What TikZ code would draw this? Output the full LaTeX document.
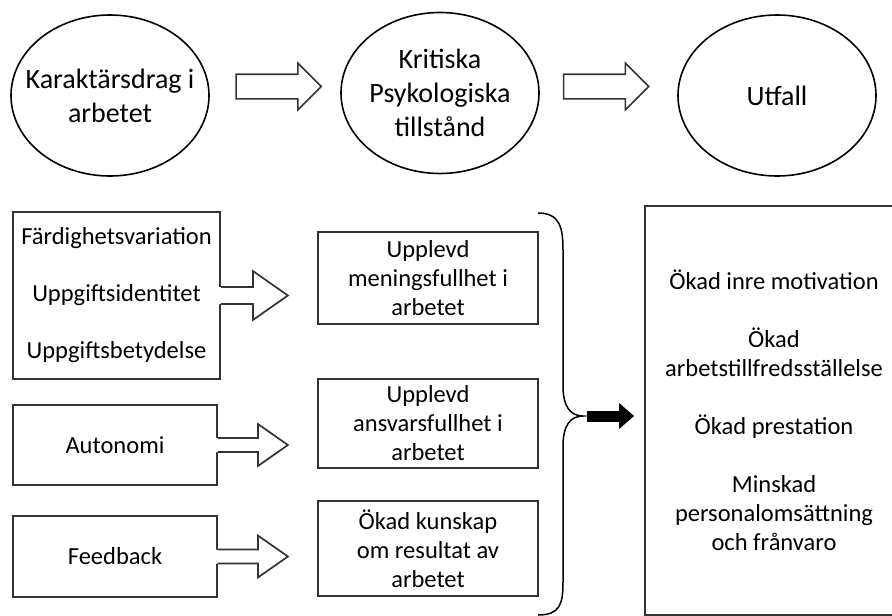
\documentclass[tikz,border=0pt]{standalone}
\usepackage{fontspec}
\setmainfont{Carlito}
\usetikzlibrary{shapes.geometric,shapes.arrows,arrows.meta,calc}
% open white arrow leaving a box: start, shaft half, head half, shaft length, head length
\newcommand{\openarrow}[5]{%
  \fill[white] ($(#1)+(-2,-#2)$) -- ++(#4+2,0) -- ++(0,#2-#3) -- ++(#5,#3) -- ++(-#5,#3) -- ++(0,#2-#3) -- ++(-#4-2,0) -- cycle;
  \draw[line width=1.7pt,black!80] ($(#1)+(0,-#2)$) -- ++(#4,0) -- ++(0,#2-#3) -- ++(#5,#3) -- ++(-#5,#3) -- ++(0,#2-#3) -- ++(-#4,0);}

\begin{document}
\begin{tikzpicture}[x=1pt,y=-1pt,
  oval/.style={draw,line width=1.6pt,ellipse,minimum width=198pt,minimum height=161pt,inner sep=-25pt,align=center,font=\fontsize{28}{34}\selectfont},
  bigarrow/.style={draw,line width=1.6pt,black!80,single arrow,minimum height=85pt,inner xsep=0pt,inner ysep=11.5pt,single arrow head extend=11pt,single arrow tip angle=90},
  box/.style={draw,line width=1.8pt,black!80,text=black,align=center,inner sep=0pt,font=\fontsize{24.5}{29}\selectfont}]
\useasboundingbox (0,0) rectangle (892,616);

% top row
\node[oval] (e1) at (110,95.5) {Karaktärsdrag i\\arbetet};
\node[oval] (e2) at (440,93) {Kritiska\\Psykologiska\\tillstånd};
\node[oval] (e3) at (777,95.5) {Utfall};
\node[bigarrow] (pf1) at (272.5,86.5) {};
\node[bigarrow] (pf2) at (600,86.5) {};

% job characteristics
\node[box,minimum width=207pt,minimum height=167pt] (fa) at (116.5,295.5) {Färdighetsvariation\\[28pt]Uppgiftsidentitet\\[28pt]Uppgiftsbetydelse};
\node[box,minimum width=204pt,minimum height=80pt] (au) at (115,445) {Autonomi};
\node[box,minimum width=204pt,minimum height=81pt] (fb) at (115,556.5) {Feedback};
\openarrow{fa.east}{8.5}{24.5}{32}{35}
\openarrow{au.east}{7}{21}{40}{30}
\openarrow{fb.east}{7}{21}{40}{30}

% psychological states
\node[box,minimum width=220pt,minimum height=92pt] (m1) at (428,278) {Upplevd\\meningsfullhet i\\arbetet};
\node[box,minimum width=220pt,minimum height=89pt] (m2) at (428,423.5) {Upplevd\\ansvarsfullhet i\\arbetet};
\node[box,minimum width=220pt,minimum height=95pt] (m3) at (428,548.5) {Ökad kunskap\\om resultat av\\arbetet};

% outcomes
\node[box,minimum width=258pt,minimum height=409pt] (ut) at (774,410.5) {Ökad inre motivation\\[29pt]Ökad\\arbetstillfredsställelse\\[29pt]Ökad prestation\\[29pt]Minskad\\personalomsättning\\och frånvaro};

% brace
\coordinate (bt) at (583,416);
\draw[line width=1.5pt] (538,213) .. controls (560,213) and (563,228) .. (563,250) -- (563,386) .. controls (563,406) and (570,416) .. (bt) .. controls (570,416) and (563,426) .. (563,446) -- (563,582) .. controls (563,604) and (560,615) .. (538,615);
\draw[line width=11pt,-{Triangle[length=15pt,width=25pt]},shorten >=10pt] ([xshift=4pt]bt) -- (bt -| ut.west);
\end{tikzpicture}
\end{document}
